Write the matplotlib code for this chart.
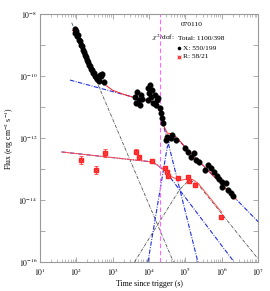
import numpy as np
import matplotlib
matplotlib.use("Agg")
import matplotlib.pyplot as plt
from matplotlib.ticker import FixedLocator, FuncFormatter, NullFormatter

plt.rcParams['font.family'] = ['Liberation Serif', 'DejaVu Serif']
plt.rcParams['mathtext.fontset'] = 'stix'

# ---------------- data (log10 time, log10 flux) ----------------
# X-ray (black points)
x_logt = [1.963, 1.963, 1.991, 2.018, 2.046, 2.073, 2.101, 2.129, 2.156, 2.184,
          2.211, 2.239, 2.266, 2.294, 2.321, 2.349, 2.376, 2.404, 2.431, 2.459,
          2.486, 2.514, 2.541, 2.569, 2.596, 2.624, 2.652, 2.679, 2.707, 2.762,
          3.615, 3.670, 3.725, 3.780, 3.642, 3.752, 3.808,
          3.973, 4.028, 4.000, 4.055, 4.083, 3.973, 4.110,
          4.165, 4.220, 4.193, 4.248,
          4.303, 4.330, 4.358, 4.386,
          4.496, 4.468, 4.606,
          4.633, 4.743, 4.991, 5.074, 5.156, 5.239, 5.294, 5.377, 5.542, 5.624,
          5.707, 5.789, 5.872, 5.927, 6.010, 6.010, 6.120, 6.175, 6.257, 6.312]
x_logf = [-8.48, -8.61, -8.55, -8.71, -8.68, -8.84, -8.87, -9.00, -9.03, -9.16,
          -9.23, -9.32, -9.39, -9.48, -9.55, -9.65, -9.68, -9.77, -9.81, -9.90,
          -9.90, -10.00, -10.03, -10.10, -10.06, -10.16, -9.97, -10.00, -9.94, -10.19,
          -10.68, -10.52, -10.77, -10.61, -10.87, -10.94, -10.74,
          -10.39, -10.29, -10.55, -10.68, -10.45, -10.77, -10.87,
          -10.61, -10.77, -10.94, -10.71,
          -11.03, -11.19, -11.35, -11.52,
          -11.97, -12.06, -12.00,
          -11.90, -12.06, -12.32, -12.45, -12.61, -12.48, -12.71, -12.77, -13.03, -12.87,
          -12.97, -13.10, -13.23, -13.32, -13.42, -13.58, -13.45, -13.68, -13.77, -13.87]
x_err_dex = 0.09

# R band (red points)
r_logt = [2.129, 2.541, 2.789, 3.642, 3.725, 4.083, 4.441, 4.496, 4.523,
          4.798, 5.074, 5.101, 5.267, 5.982]
r_logf = [-12.71, -13.03, -12.48, -12.45, -12.61, -12.74, -12.97, -13.10, -13.23,
          -13.29, -13.26, -13.39, -13.52, -14.55]
r_err_dex = [0.13, 0.13, 0.14, 0.08, 0.07, 0.05, 0.05, 0.05, 0.05,
             0.05, 0.06, 0.06, 0.06, 0.04]

# ---------------- model curves (log10 time, log10 flux nodes) ----------------
# X-ray components
xA_logt = [1.873, 4.670]            # steep initial decay
xA_logf = [-8.28, -16.00]
xB_logt = [1.826, 3.56, 4.10, 4.22, 4.30, 4.50, 5.35]   # plateau + steep drop
xB_logf = [-10.13, -10.68, -10.83, -10.92, -11.20, -12.03, -16.03]
xC_logt = [3.97, 4.30, 4.50, 4.62, 4.75, 7.00]          # late rise + decay
xC_logf = [-16.00, -13.70, -12.30, -11.95, -12.00, -14.70]
# X-ray total
xT_logt = [1.90, 1.95, 2.2, 2.4, 2.6, 2.8, 3.0, 3.3, 3.56, 4.10, 4.22, 4.30,
           4.40, 4.50, 4.62, 4.75, 5.00, 6.40]
xT_logf = [-8.53, -8.61, -9.26, -9.63, -10.03, -10.29, -10.46, -10.59, -10.68,
           -10.83, -10.92, -11.19, -11.60, -11.84, -11.86, -11.97, -12.30, -13.98]

# R-band components
rD_logt = [1.60, 3.60, 4.00, 4.20, 4.40, 4.60, 6.32]    # shallow + break
rD_logf = [-12.45, -12.71, -12.76, -12.85, -13.03, -13.30, -15.97]
rE_logt = [3.60, 4.50, 4.85, 5.05, 5.20, 5.35, 7.00]    # late bump
rE_logf = [-16.00, -14.30, -13.65, -13.42, -13.40, -13.50, -15.90]
# R-band total
rT_logt = [1.60, 2.10, 3.00, 3.60, 4.00, 4.20, 4.40, 4.60, 4.85, 5.05, 5.20, 5.35, 6.00]
rT_logf = [-12.45, -12.515, -12.63, -12.71, -12.757, -12.846, -13.02, -13.24,
           -13.37, -13.32, -13.34, -13.46, -14.40]

t_break = 2.0e4
x_tick_exp = [1, 2, 3, 4, 5, 6, 7]
y_tick_exp = [-16, -15, -14, -13, -12, -11, -10, -9, -8]

# ---------------- plot ----------------
fig = plt.figure(figsize=(2.70, 2.91), dpi=100)
ax = fig.add_axes([0.148, 0.0997, 0.808, 0.852])
ax.set_xscale('log')
ax.set_yscale('log')
ax.set_xlim(1e1, 1e7)
ax.set_ylim(1e-16, 1e-8)

p = lambda a: 10 ** np.asarray(a, dtype=float)

blue = '#2030e0'
dd = (0, (4, 1.3, 0.8, 1.3))
ax.plot(p(xA_logt), p(xA_logf), color='#555555', lw=0.6, ls=dd)
ax.plot(p(rE_logt), p(rE_logf), color='#555555', lw=0.6, ls=dd)
ax.plot(p(xB_logt), p(xB_logf), color=blue, lw=0.8, ls=dd)
ax.plot(p(xC_logt), p(xC_logf), color=blue, lw=0.8, ls=dd)
ax.plot(p(rD_logt), p(rD_logf), color=blue, lw=0.8, ls=dd)
ax.plot(p(xT_logt), p(xT_logf), color='#ff2020', lw=0.7)
ax.plot(p(rT_logt), p(rT_logf), color='#ff5050', lw=0.7)

ax.axvline(t_break, color='#ff66ff', lw=0.8, ls=(0, (4, 2.5)))

xt = p(x_logt)
xf = p(x_logf)
ax.errorbar(xt, xf, yerr=[xf - xf * 10 ** -x_err_dex, xf * 10 ** x_err_dex - xf],
            xerr=[xt - xt * 10 ** -0.02, xt * 10 ** 0.02 - xt],
            fmt='o', color='black', ms=3.3, mec='black', ecolor='#aaaaaa',
            elinewidth=0.5, capsize=0.8, capthick=0.5, zorder=5)

rt = p(r_logt)
rf = p(r_logf)
re = np.asarray(r_err_dex)
ax.errorbar(rt, rf, yerr=[rf - rf * 10 ** -re, rf * 10 ** re - rf],
            xerr=[rt - rt * 10 ** -0.03, rt * 10 ** 0.03 - rt],
            fmt='s', color='#ff2020', ms=2.6, mec='#ff2020', ecolor='#ff4040',
            elinewidth=0.6, capsize=1.2, capthick=0.6, zorder=6)
ax.plot(rt, rf, ls='none', marker='x', color='#ff5050', ms=3.2, mew=0.4, zorder=7)

# ticks
minor_x = [m * 10.0 ** e for e in x_tick_exp[:-1] for m in range(2, 10)]
ax.xaxis.set_major_locator(FixedLocator(p(x_tick_exp)))
ax.xaxis.set_minor_locator(FixedLocator(minor_x))
ax.xaxis.set_minor_formatter(NullFormatter())
ax.xaxis.set_major_formatter(FuncFormatter(lambda v, pos: r'$10^{%d}$' % round(np.log10(v))))
ax.yaxis.set_major_locator(FixedLocator(p(y_tick_exp)))
ax.yaxis.set_minor_locator(FixedLocator([]))
ax.yaxis.set_minor_formatter(NullFormatter())

def yfmt(v, pos):
    e = int(round(np.log10(v)))
    return r'$10^{%d}$' % e if e % 2 == 0 else ''
ax.yaxis.set_major_formatter(FuncFormatter(yfmt))

ax.tick_params(which='both', direction='in', top=True, right=True, color='#888888',
               labelsize=5.5)
ax.tick_params(axis='x', pad=3)
ax.tick_params(axis='y', pad=2)
ax.tick_params(which='major', length=3.5, width=0.5)
ax.tick_params(which='minor', length=2, width=0.4)
for s in ax.spines.values():
    s.set_color('#999999')
    s.set_linewidth(0.8)

ax.set_xlabel('Time since trigger (s)', fontsize=5.6, labelpad=1.5)
ax.set_ylabel(r'Flux (erg cm$^{-2}$ s$^{-1}$)', fontsize=5.6, labelpad=2)

# legend-like annotations
fs = 5.3
fig.text(192 / 270, 1 - 25 / 291, '070110', fontsize=fs, ha='center', va='center')
fig.text(152 / 270, 1 - 38 / 291, r'$\chi^2$/dof:', fontsize=fs, ha='left', va='center')
fig.text(178 / 270, 1 - 38 / 291, 'Total: 1100/398', fontsize=fs, ha='left', va='center')
fig.text(183 / 270, 1 - 48 / 291, 'X: 550/199', fontsize=fs, ha='left', va='center')
fig.text(183 / 270, 1 - 57 / 291, 'R: 58/21', fontsize=fs, ha='left', va='center')
fig.lines.append(plt.Line2D([178.5 / 270], [1 - 48 / 291], marker='o', ms=1.6,
                            color='black', transform=fig.transFigure, figure=fig))
fig.lines.append(plt.Line2D([178.5 / 270], [1 - 57 / 291], marker='s', ms=2.0,
                            color='#ff2020', transform=fig.transFigure, figure=fig))
fig.lines.append(plt.Line2D([178.5 / 270], [1 - 57 / 291], marker='x', ms=3,
                            mew=0.4, color='#ff6060', transform=fig.transFigure, figure=fig))

fig.savefig('out.png', dpi=100)
